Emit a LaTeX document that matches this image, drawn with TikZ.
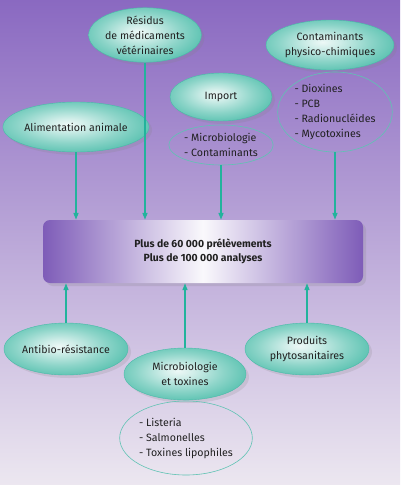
\documentclass[tikz,border=0pt]{standalone}
\usepackage{fontspec}
\setmainfont{Fira Sans}
\usetikzlibrary{calc,shapes.geometric,shadows,arrows.meta}

\definecolor{tealc}{HTML}{1AAA92}
\definecolor{arrowc}{HTML}{22B39C}
\definecolor{lilac}{HTML}{7E5CB8}
\definecolor{bgtop}{HTML}{8A69C1}
\definecolor{bgbot}{HTML}{ECE7F0}
\definecolor{txt}{HTML}{202020}

\pgfdeclareradialshading{tealglow}{\pgfpoint{-3bp}{3bp}}{%
  color(0bp)=(white!92!tealc); color(6bp)=(white!80!tealc); color(18bp)=(tealc!50!white);
  color(32bp)=(tealc!80!white); color(46bp)=(tealc); color(60bp)=(tealc)}

\tikzset{
  blob/.style={ellipse, shading=tealglow, draw=tealc!80!white, line width=0.4pt,
    inner sep=0pt, align=center, text=txt,
    drop shadow={opacity=0.18, shadow xshift=3pt, shadow yshift=-3pt}},
  listring/.style={ellipse, draw=tealc!70!white, line width=0.6pt, inner sep=0pt,
    align=left, text=txt},
  feed/.style={draw=arrowc, line width=1.5pt, -{Triangle[length=7pt,width=5pt]}}
}

\begin{document}
\begin{tikzpicture}[x=1pt,y=-1pt,font=\fontsize{10.6}{15}\selectfont]
\useasboundingbox (0,0) rectangle (400,485);
\shade [top color=bgtop, bottom color=bgbot] (0,0) rectangle (400,485);

% central box
\node (box) [rounded corners=7pt, left color=lilac, right color=lilac, middle color=white!96!lilac,
  minimum width=320, minimum height=63, inner sep=0pt, align=center, text=txt,
  font=\fontsize{10.4}{13.5}\selectfont\bfseries,
  drop shadow={opacity=0.2, shadow xshift=3pt, shadow yshift=-3pt}]
  at (203,251.5) {Plus de 60 000 prélèvements\\Plus de 100 000 analyses};

% top row
\node (res) [blob, minimum width=112, minimum height=50] at (145,35) {Résidus\\de médicaments\\vétérinaires};
\node (alim) [blob, minimum width=124, minimum height=50] at (76,127) {Alimentation animale};
\node (imp) [blob, minimum width=102, minimum height=48] at (221,97) {Import};
\node (implist) [listring, minimum width=102, minimum height=40] at (221,145) {- Microbiologie\\- Contaminants};
\node (chem) [blob, minimum width=124, minimum height=50] at (330,45) {Contaminants\\physico-chimiques};
\node (chemlist) [listring, minimum width=104, minimum height=80] at (335,112) {- Dioxines\\- PCB\\- Radionucléides\\- Mycotoxines};

% bottom row
\node (anti) [blob, minimum width=124, minimum height=52] at (66,349) {Antibio-résistance};
\node (micro) [blob, minimum width=122, minimum height=52] at (185,374) {Microbiologie\\et toxines};
\node (mlist) [listring, minimum width=118, minimum height=74] at (186,438) {- Listeria\\- Salmonelles\\- Toxines lipophiles};
\node (phyto) [blob, minimum width=124, minimum height=52] at (307,349) {Produits\\phytosanitaires};

% arrows into the box
\draw [feed] (alim.south) -- (alim.south |- box.north);
\draw [feed] (res.south) -- (res.south |- box.north);
\draw [feed] (implist.south) -- (implist.south |- box.north);
\draw [feed] (chemlist.south) -- (chemlist.south |- box.north);

\draw [feed] (anti.north) -- (anti.north |- box.south);
\draw [feed] (micro.north) -- (micro.north |- box.south);
\draw [feed] (phyto.north) -- (phyto.north |- box.south);

\end{tikzpicture}
\end{document}
